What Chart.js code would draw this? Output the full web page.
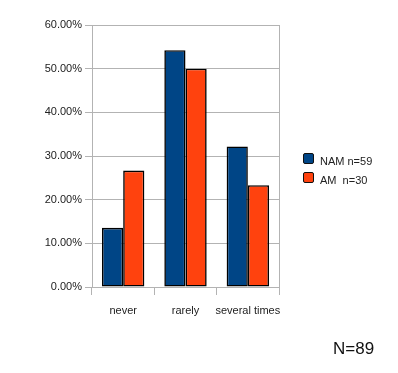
<!DOCTYPE html>
<html>
<head>
<meta charset="utf-8">
<script src="https://cdn.jsdelivr.net/npm/chart.js@4/dist/chart.umd.min.js"></script>
<style>
  html, body { margin: 0; padding: 0; background: #fff; }
  #wrap { position: relative; width: 398px; height: 373px; }
  canvas { position: absolute; left: 0; top: 0; }
  .legend { position: absolute; left: 303px; top: 151px; font: 11px "Liberation Sans", Arial, sans-serif; color: #222; }
  .legend .row { display: flex; align-items: center; height: 19px; white-space: pre; }
  .legend .box { width: 9px; height: 9px; border: 1px solid #111; border-radius: 2px; margin-right: 6px; position: relative; top: -2px; }
  .note { position: absolute; left: 333px; top: 339px; font: 17px "Liberation Sans", Arial, sans-serif; color: #111; }
</style>
</head>
<body>
<div id="wrap">
  <canvas id="c" width="398" height="373"></canvas>
  <div class="legend" id="legend"></div>
  <div class="note" id="note"></div>
</div>
<script>
const categories = ["never", "rarely", "several times"];
const seriesNames = ["NAM n=59", "AM  n=30"];
const namValues = [13.56, 54.24, 32.20];
const amValues = [26.67, 50.00, 23.33];
const seriesColors = ["#004586", "#ff420e"];
const yTicks = [0, 10, 20, 30, 40, 50, 60];
const noteText = "N=89";

const gridColor = "#b3b3b3";
const font = { family: "'Liberation Sans', Arial, sans-serif", size: 11 };

const rightBorder = {
  id: 'rightBorder',
  afterDraw(chart) {
    const { ctx, chartArea } = chart;
    ctx.save();
    ctx.strokeStyle = gridColor;
    ctx.lineWidth = 1;
    ctx.beginPath();
    const x = Math.round(chartArea.right) + 0.5;
    ctx.moveTo(x, chartArea.top);
    ctx.lineTo(x, chartArea.bottom + 8);
    ctx.stroke();
    ctx.restore();
  }
};

const chart = new Chart(document.getElementById('c'), {
  type: 'bar',
  data: {
    labels: categories,
    datasets: [
      { label: seriesNames[0], data: namValues, backgroundColor: seriesColors[0], borderColor: '#000', borderWidth: 1.6, borderSkipped: false },
      { label: seriesNames[1], data: amValues, backgroundColor: seriesColors[1], borderColor: '#000', borderWidth: 1.6, borderSkipped: false }
    ]
  },
  options: {
    responsive: false,
    animation: false,
    layout: { padding: { top: 25, right: 119, left: 0, bottom: 0 } },
    plugins: { legend: { display: false }, tooltip: { enabled: false } },
    datasets: { bar: { categoryPercentage: 0.68, barPercentage: 1.0 } },
    scales: {
      x: {
        grid: { display: true, drawOnChartArea: false, offset: true, color: gridColor, tickLength: 8 },
        border: { color: gridColor },
        ticks: { color: '#222', font: font, padding: 9, maxRotation: 0, autoSkip: false },
        afterFit(scale) { scale.height = 86; }
      },
      y: {
        min: 0, max: 60,
        afterBuildTicks(scale) { scale.ticks = yTicks.map(v => ({ value: v })); },
        grid: { color: gridColor, tickLength: 7 },
        border: { color: gridColor },
        ticks: { color: '#222', font: font, padding: 3, callback: v => v.toFixed(2) + '%' },
        afterFit(scale) { scale.width = 92; }
      }
    }
  },
  plugins: [rightBorder]
});

const legend = document.getElementById('legend');
chart.data.datasets.forEach(ds => {
  const row = document.createElement('div');
  row.className = 'row';
  const box = document.createElement('span');
  box.className = 'box';
  box.style.background = ds.backgroundColor;
  const txt = document.createElement('span');
  txt.textContent = ds.label;
  row.appendChild(box);
  row.appendChild(txt);
  legend.appendChild(row);
});
document.getElementById('note').textContent = noteText;
</script>
</body>
</html>
